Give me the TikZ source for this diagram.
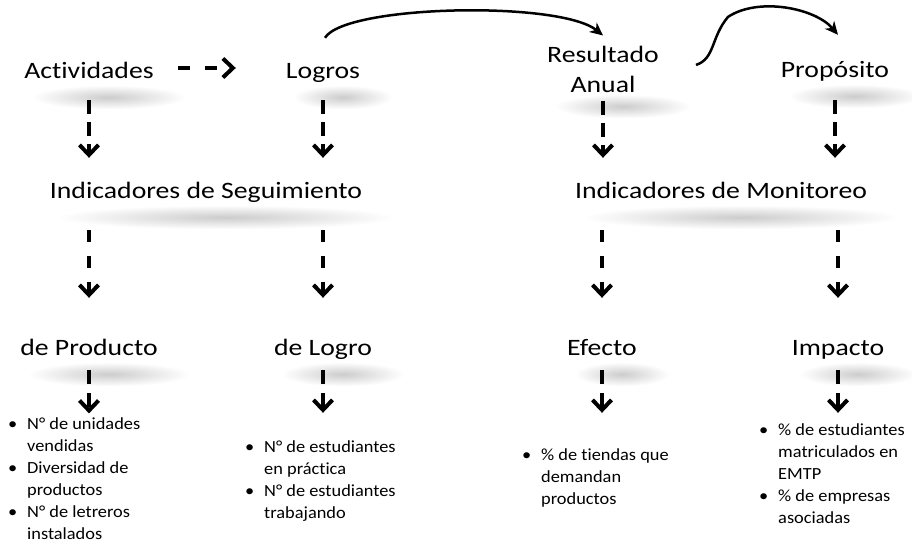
\documentclass[tikz,border=0pt]{standalone}
\usepackage{fontspec}
\setmainfont{Carlito}[Ligatures=NoCommon]
\newfontfamily\lblfont[FakeStretch=1.18, Ligatures=NoCommon]{Carlito}
\newfontfamily\itmfont[FakeStretch=1.08, Ligatures=NoCommon]{Carlito}
\usetikzlibrary{arrows.meta, calc, fadings, backgrounds}
\tikzfading[name=fuzzy, inner color=transparent!0, outer color=transparent!100]
\tikzset{
  lblbase/.style={font=\lblfont\fontsize{23.5}{30}\selectfont, inner sep=0pt, anchor=base},
  lbl/.style={lblbase, text height=17pt, text depth=5pt},
  lst/.style={font=\itmfont\fontsize{17}{22}\selectfont, inner sep=0pt, anchor=base west},
  dasharrow/.style={line width=4pt, dash pattern=#1, -{Straight Barb[length=10pt,width=19pt]}},
  bendarrow/.style={line width=2.5pt, -{Stealth[length=13pt,width=12pt,inset=4pt]}},
  blur/.style={fill=black!20, path fading=fuzzy}
}
\begin{document}
\begin{tikzpicture}[x=1pt, y=1pt]
\useasboundingbox (0,0) rectangle (912,-546);
\node[lbl] (act) at (89,-78) {Actividades};
\node[lbl] (log) at (323,-78) {Logros};
\node[lblbase, align=center] (res) at (603,-92) {Resultado\\Anual};
\node[lbl] (prop) at (835,-77) {Propósito};
\node[lbl] (indseg) at (206,-198) {Indicadores de Seguimiento};
\node[lbl] (indmon) at (721,-198) {Indicadores de Monitoreo};
\node[lbl] (prod) at (89,-355) {de Producto};
\node[lbl] (logro) at (323,-355) {de Logro};
\node[lbl] (efe) at (602,-355) {Efecto};
\node[lbl] (imp) at (838,-355) {Impacto};
\node[lst] (lstprod) at (8,-429) {\begin{tabular}[t]{@{}p{19pt}@{}l@{}}
\textbullet & N° de unidades\\ & vendidas\\
\textbullet & Diversidad de\\ & productos\\
\textbullet & N° de letreros\\ & instalados
\end{tabular}};
\node[lst] (lstlogro) at (245,-452) {\begin{tabular}[t]{@{}p{19pt}@{}l@{}}
\textbullet & N° de estudiantes\\ & en práctica\\
\textbullet & N° de estudiantes\\ & trabajando
\end{tabular}};
\node[lst] (lstefe) at (522,-460) {\begin{tabular}[t]{@{}p{19pt}@{}l@{}}
\textbullet & \% de tiendas que\\ & demandan\\ & productos
\end{tabular}};
\node[lst] (lstimp) at (759,-435) {\begin{tabular}[t]{@{}p{19pt}@{}l@{}}
\textbullet & \% de estudiantes\\ & matriculados en\\ & EMTP\\
\textbullet & \% de empresas\\ & asociadas
\end{tabular}};
\begin{pgfonlayer}{background}
\foreach \nd in {act, log, res, prop, indseg, indmon, prod, logro, efe, imp}
  \fill[blur] ([shift={(8pt,-2pt)}]\nd.south west) rectangle ([shift={(32pt,-26pt)}]\nd.south east);
\end{pgfonlayer}
\draw[dasharrow={on 12pt off 15pt}, shorten <=24pt, shorten >=50pt] ([yshift=4pt]act.east) -- ([yshift=4pt]log.west);
\foreach \a/\b/\s in {act/indseg/17, log/indseg/17, res/indmon/9, prop/indmon/18}
  \draw[dasharrow={on 14pt off 8pt}, shorten <=\s pt, shorten >=23pt] (\a.south) -- (\a.south |- \b.north);
\foreach \a/\b in {prod/indseg, logro/indseg, efe/indmon, imp/indmon}
  \draw[dasharrow={on 12pt off 14pt}, shorten <=27pt, shorten >=40pt] (\a |- \b.south) -- (\a.north);
\foreach \a/\b/\e in {prod/lstprod/0, logro/lstlogro/23.6, efe/lstefe/31.6, imp/lstimp/6.6}
  \draw[dasharrow={on 14pt off 9pt}, shorten <=10pt, shorten >=\e pt] (\a.south) -- (\a.south |- \b.north);
\draw[bendarrow] ([shift={(2pt,23pt)}]log.north) .. controls +(20pt,33pt) and +(-43pt,35pt) .. ([yshift=10pt]res.north);
\draw[bendarrow] ([shift={(37pt,4pt)}]res.east) .. controls +(19pt,6pt) and +(-17pt,-20pt) .. ++(32pt,48pt)
  .. controls +(30pt,20pt) and +(-23pt,27pt) .. ([shift={(3pt,25pt)}]prop.north);
\end{tikzpicture}
\end{document}
